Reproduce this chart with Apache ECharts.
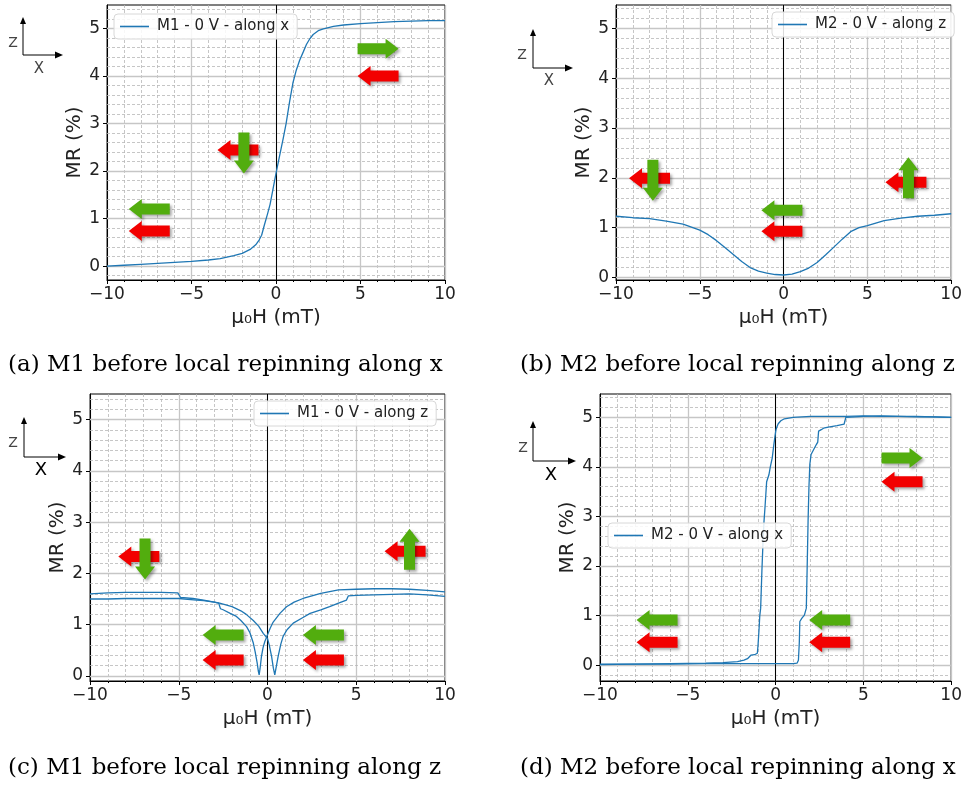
<!DOCTYPE html>
<html><head><meta charset="utf-8">
<script src="https://cdn.jsdelivr.net/npm/echarts@6/dist/echarts.min.js"></script>
<style>html,body{margin:0;padding:0;background:#fff}#c{width:965px;height:787px}</style>
</head><body><div id="c"></div>
<script>
// ---------------- data ----------------
const yTickValues = [0, 1, 2, 3, 4, 5];
const yMinorGrid = [-0.2, 0.2, 0.4, 0.6, 0.8, 1.2, 1.4, 1.6, 1.8, 2.2, 2.4, 2.6, 2.8, 3.2, 3.4, 3.6, 3.8, 4.2, 4.4, 4.6, 4.8, 5.2, 5.4];

const seriesNames = ['M1 - 0 V - along x', 'M2 - 0 V - along z', 'M1 - 0 V - along z', 'M2 - 0 V - along x'];
const captions = ['(a) M1 before local repinning along x', '(b) M2 before local repinning along z',
                  '(c) M1 before local repinning along z', '(d) M2 before local repinning along x'];

// (a) M1 along x
const aField = [-10,-9,-8,-7,-6,-5,-4,-3.3,-2.5,-2,-1.5,-1.2,-1,-0.85,-0.7,-0.5,-0.35,-0.2,0,0.2,0.43,0.6,0.8,1,1.2,1.4,1.62,1.8,2,2.2,2.5,2.8,3.4,4,5,6,7,8,9,10];
const aMR    = [0,0.02,0.04,0.06,0.08,0.1,0.13,0.16,0.22,0.27,0.36,0.45,0.55,0.65,0.85,1.1,1.3,1.58,1.95,2.3,2.69,3.0,3.45,3.85,4.12,4.33,4.51,4.66,4.78,4.87,4.95,4.99,5.04,5.07,5.1,5.12,5.14,5.15,5.16,5.16];

// (b) M2 along z
const bField = [-10,-9,-8,-7,-6,-5,-4.5,-4,-3.5,-3,-2.5,-2,-1.5,-1,-0.5,0,0.5,1,1.5,2,2.5,3,3.5,4,4.5,5,6,7,8,9,10];
const bMR    = [1.23,1.2,1.18,1.13,1.07,0.95,0.86,0.74,0.6,0.46,0.32,0.2,0.13,0.09,0.06,0.05,0.07,0.12,0.19,0.3,0.45,0.61,0.77,0.92,1.0,1.04,1.14,1.19,1.23,1.25,1.28];

// (c) M1 along z : sweep down (+10 -> -10) and sweep up (-10 -> +10)
const cDownField = [10,9,8,7,6,5,4,3,2.5,2,1.5,1.07,0.7,0.32,0.15,0,-0.15,-0.25,-0.34,-0.42,-0.47,-0.52,-0.58,-0.7,-0.8,-1.0,-1.18,-1.5,-1.75,-2.1,-2.5,-2.65,-2.75,-3,-3.6,-4.2,-4.9,-5.05,-6,-7,-8,-9,-10];
const cDownMR    = [1.64,1.67,1.69,1.7,1.7,1.69,1.68,1.61,1.56,1.51,1.44,1.35,1.22,1.05,0.93,0.8,0.67,0.55,0.38,0.14,0.02,0.1,0.25,0.48,0.64,0.85,0.96,1.08,1.16,1.22,1.29,1.31,1.42,1.44,1.48,1.51,1.53,1.62,1.63,1.63,1.63,1.62,1.6];
const cUpField = [-10,-9,-8,-7,-6,-5,-4,-3.6,-3,-2.7,-2,-1.5,-1.2,-0.8,-0.5,-0.24,0,0.1,0.23,0.33,0.41,0.5,0.6,0.75,0.88,1.1,1.45,2,2.4,3,3.5,4,4.45,4.55,5,6,7,8,9,10];
const cUpMR    = [1.5,1.5,1.51,1.51,1.51,1.51,1.48,1.47,1.44,1.42,1.35,1.27,1.2,1.08,0.97,0.83,0.73,0.6,0.38,0.15,0.02,0.05,0.38,0.62,0.77,0.9,1.03,1.14,1.22,1.29,1.35,1.42,1.48,1.56,1.57,1.58,1.59,1.6,1.58,1.55];

// (d) M2 along x : sweep up and sweep down
const dUpField = [-10,-8,-6,-4,-2,0,1.0,1.22,1.3,1.35,1.38,1.5,1.64,1.75,1.8,1.85,1.9,1.95,2.02,2.17,2.32,2.4,2.45,2.6,2.73,3.0,3.5,3.9,4.0,4.05,5,6,7,8,9,10];
const dUpMR    = [0.01,0.02,0.02,0.03,0.03,0.03,0.03,0.04,0.1,0.45,0.88,0.95,1.01,1.15,2.0,2.9,3.6,4.05,4.25,4.35,4.45,4.5,4.72,4.75,4.78,4.8,4.83,4.86,5.0,5.02,5.02,5.03,5.02,5.02,5.01,5.0];
const dDownField = [10,9,8,7,6,5,4,3,2,1,0.5,0.3,0.15,0.09,0.03,0,-0.1,-0.19,-0.3,-0.38,-0.51,-0.6,-0.66,-0.72,-0.78,-0.85,-0.9,-0.94,-1.0,-1.04,-1.2,-1.41,-1.6,-1.8,-2.17,-3,-4,-6,-8,-10];
const dDownMR    = [5.0,5.01,5.01,5.02,5.02,5.03,5.02,5.02,5.02,5.0,4.97,4.93,4.87,4.82,4.76,4.7,4.45,4.18,4.0,3.84,3.7,3.2,2.9,2.45,1.9,1.15,1.0,0.74,0.4,0.24,0.21,0.2,0.13,0.1,0.07,0.05,0.04,0.03,0.02,0.02];

// ---------------- layout / style ----------------
const FONT = 'DejaVu Sans';
const BLUE = '#1f77b4';
const GREEN = '#52ad0e', RED = '#f20000';
const grids = [
  {left: 107, top: 5, width: 338, height: 275},
  {left: 616, top: 5, width: 339, height: 275},
  {left: 90, top: 394, width: 355, height: 287},
  {left: 600, top: 394, width: 354, height: 287}
];
const yRanges = [[-0.29, 5.49], [-0.05, 5.47], [-0.1, 5.5], [-0.32, 5.47]];
const legendPos = [{left: 114, top: 14}, {left: 772, top: 12}, {left: 254, top: 401}, {left: 608, top: 523}];

// annotation arrows (panel, field, MR, direction, colour)
const arrows = [
  [0, 6.04, 4.57, 'right', GREEN], [0, 6.04, 4.0, 'left', RED],
  [0, -2.25, 2.44, 'left', RED], [0, -1.9, 2.38, 'down', GREEN],
  [0, -7.5, 1.2, 'left', GREEN], [0, -7.5, 0.74, 'left', RED],
  [1, -8.0, 1.99, 'left', RED], [1, -7.8, 1.95, 'down', GREEN],
  [1, 7.3, 1.91, 'left', RED], [1, 7.45, 2.0, 'up', GREEN],
  [1, -0.1, 1.35, 'left', GREEN], [1, -0.1, 0.93, 'left', RED],
  [2, -7.25, 2.33, 'left', RED], [2, -6.9, 2.28, 'down', GREEN],
  [2, 7.75, 2.43, 'left', RED], [2, 8.0, 2.47, 'up', GREEN],
  [2, -2.5, 0.8, 'left', GREEN], [2, -2.5, 0.31, 'left', RED],
  [2, 3.15, 0.8, 'left', GREEN], [2, 3.15, 0.31, 'left', RED],
  [3, 7.2, 4.18, 'right', GREEN], [3, 7.2, 3.7, 'left', RED],
  [3, -6.75, 0.91, 'left', GREEN], [3, -6.75, 0.46, 'left', RED],
  [3, 3.08, 0.91, 'left', GREEN], [3, 3.08, 0.46, 'left', RED]
];

const zip = (xs, ys) => xs.map((x, i) => [x, ys[i]]);
const minus = v => (v < 0 ? '\u2212' + (-v) : '' + v);

const xAxes = grids.map((g, i) => ({
  gridIndex: i, type: 'value', min: -10, max: 10, interval: 5,
  axisLine: {show: true, onZero: false, lineStyle: {color: '#000', width: 1}},
  axisTick: {show: true, length: 4, lineStyle: {color: '#000'}},
  minorTick: {show: true, splitNumber: 5, length: 2, lineStyle: {color: '#000'}},
  splitLine: {show: true, lineStyle: {color: '#c6c6c6', width: 1.3}},
  minorSplitLine: {show: true, lineStyle: {color: '#b8b8b8', width: 0.8, type: [3, 2]}},
  axisLabel: {formatter: minus, fontSize: 17, color: '#222', margin: 6, fontFamily: FONT},
  name: '\u03bc\u2080H (mT)', nameLocation: 'middle', nameGap: 28,
  nameTextStyle: {fontSize: 20, color: '#222', fontFamily: FONT}
}));
const yAxes = grids.map((g, i) => ({
  gridIndex: i, type: 'value', min: yRanges[i][0], max: yRanges[i][1],
  axisLine: {show: true, onZero: false, lineStyle: {color: '#000', width: 1}},
  axisTick: {show: true, length: 4, customValues: yTickValues, lineStyle: {color: '#000'}},
  axisLabel: {customValues: yTickValues, fontSize: 17, color: '#222', margin: 7, fontFamily: FONT},
  splitLine: {show: false},
  name: 'MR (%)', nameLocation: 'middle', nameGap: 22, nameRotate: 90,
  nameTextStyle: {fontSize: 20, color: '#222', fontFamily: FONT}
}));

const series = [];
grids.forEach((g, i) => {
  const [lo, hi] = yRanges[i];
  const lines = [];
  yMinorGrid.filter(v => v > lo && v < hi).forEach(v =>
    lines.push({yAxis: v, lineStyle: {color: '#b8b8b8', width: 0.8, type: [3, 2]}}));
  yTickValues.filter(v => v > lo && v < hi).forEach(v =>
    lines.push({yAxis: v, lineStyle: {color: '#c6c6c6', width: 1.3, type: 'solid'}}));
  lines.push({xAxis: 0, lineStyle: {color: '#000', width: 1, type: 'solid'}});
  series.push({
    type: 'line', xAxisIndex: i, yAxisIndex: i, data: [], silent: true, z: 1,
    markLine: {silent: true, z: 1, symbol: ['none', 'none'], label: {show: false}, animation: false, data: lines}
  });
});
const curve = (i, data) => ({
  type: 'line', name: seriesNames[i], xAxisIndex: i, yAxisIndex: i, data,
  symbol: 'none', showSymbol: false, z: 3, clip: true,
  lineStyle: {color: BLUE, width: 1.3}, itemStyle: {color: BLUE}
});
series.push(curve(0, zip(aField, aMR)));
series.push(curve(1, zip(bField, bMR)));
series.push(curve(2, zip(cDownField, cDownMR)));
series.push(curve(2, zip(cUpField, cUpMR)));
series.push(curve(3, zip(dUpField, dUpMR)));
series.push(curve(3, zip(dDownField, dDownMR)));

const legends = grids.map((g, i) => ({
  data: [seriesNames[i]], left: legendPos[i].left, top: legendPos[i].top, orient: 'horizontal',
  selectedMode: false, icon: 'rect', itemWidth: 29, itemHeight: 1.6, itemGap: 8,
  backgroundColor: 'rgba(255,255,255,0.85)', borderColor: '#d8d8d8', borderWidth: 1, borderRadius: 4,
  padding: [5, 8, 5, 6],
  textStyle: {fontSize: 15, color: '#222', fontFamily: FONT, padding: [0, 0, 0, 3]}
}));

const chart = echarts.init(document.getElementById('c'), null, {renderer: 'canvas'});
chart.setOption({
  animation: false,
  backgroundColor: '#fff',
  grid: grids.map(g => Object.assign({show: true, borderColor: '#000', borderWidth: 1, backgroundColor: 'transparent'}, g)),
  xAxis: xAxes, yAxis: yAxes, legend: legends, series
});

// ---------------- decorations ----------------
function arrowPoly(cx, cy, dir, L, bw, hw, hl) {
  const pts = [[L/2, 0], [L/2 - hl, -hw/2], [L/2 - hl, -bw/2], [-L/2, -bw/2], [-L/2, bw/2], [L/2 - hl, bw/2], [L/2 - hl, hw/2]];
  const r = {right: [1, 0], left: [-1, 0], up: [0, -1], down: [0, 1]}[dir];
  return pts.map(([u, v]) => [cx + u * r[0] - v * r[1], cy + u * r[1] + v * r[0]]);
}
const graphics = [];
arrows.forEach(([p, x, y, dir, col]) => {
  const [cx, cy] = chart.convertToPixel({gridIndex: p}, [x, y]);
  graphics.push({
    type: 'polygon', z: 50, silent: true,
    shape: {points: arrowPoly(cx, cy, dir, 41, 11, 20, 13)},
    style: {fill: col, shadowBlur: 3, shadowOffsetX: 2, shadowOffsetY: 2, shadowColor: 'rgba(0,0,0,0.35)'}
  });
});

// coordinate-system icons (Z up, X right)
const icons = [
  {vx: 23, top: 17, corner: 55, right: 63, zx: 13, zy: 43, xx: 39, xy: 69, xs: 15, xc: '#444'},
  {vx: 533, top: 29, corner: 68, right: 573, zx: 522, zy: 55, xx: 549, xy: 81, xs: 15, xc: '#444'},
  {vx: 24, top: 417, corner: 457, right: 66, zx: 13, zy: 443, xx: 41, xy: 470, xs: 18, xc: '#000'},
  {vx: 533, top: 421, corner: 461, right: 576, zx: 523, zy: 448, xx: 551, xy: 475, xs: 18, xc: '#000'}
];
icons.forEach(ic => {
  graphics.push({type: 'polyline', silent: true, z: 50,
    shape: {points: [[ic.vx, ic.top + 5], [ic.vx, ic.corner], [ic.right - 6, ic.corner]]},
    style: {stroke: '#000', lineWidth: 1, fill: null}});
  graphics.push({type: 'polygon', silent: true, z: 50,
    shape: {points: [[ic.vx, ic.top], [ic.vx - 3, ic.top + 7], [ic.vx + 3, ic.top + 7]]}, style: {fill: '#000'}});
  graphics.push({type: 'polygon', silent: true, z: 50,
    shape: {points: [[ic.right, ic.corner], [ic.right - 8, ic.corner - 3.5], [ic.right - 8, ic.corner + 3.5]]}, style: {fill: '#000'}});
  graphics.push({type: 'text', silent: true, z: 50, x: ic.zx, y: ic.zy,
    style: {text: 'Z', fill: '#444', font: '14px "DejaVu Sans"', align: 'center', verticalAlign: 'middle'}});
  graphics.push({type: 'text', silent: true, z: 50, x: ic.xx, y: ic.xy,
    style: {text: 'X', fill: ic.xc, font: ic.xs + 'px "DejaVu Sans"', align: 'center', verticalAlign: 'middle'}});
});

// captions
const capPos = [[8, 365], [520, 365], [8, 768], [520, 768]];
captions.forEach((t, i) => {
  graphics.push({type: 'text', silent: true, x: capPos[i][0], y: capPos[i][1],
    style: {text: t, fill: '#000', font: '23px "DejaVu Serif"', align: 'left', verticalAlign: 'middle'}});
});

chart.setOption({graphic: graphics});
</script>
</body></html>
